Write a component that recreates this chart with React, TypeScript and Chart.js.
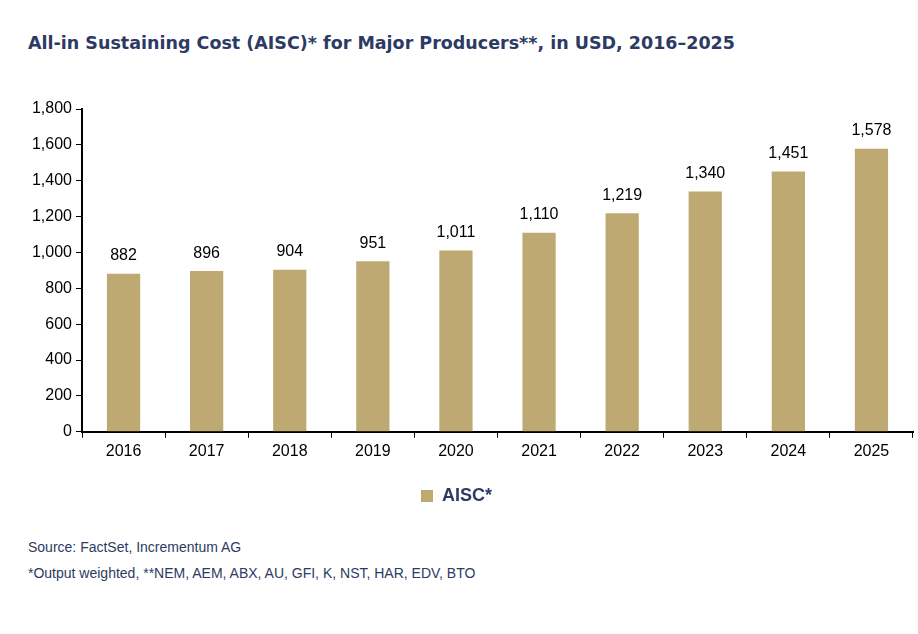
import React, { useEffect, useRef } from "react";
import { Chart, registerables } from "chart.js";
Chart.register(...registerables);

const categories = ["2016","2017","2018","2019","2020","2021","2022","2023","2024","2025"];
const aisc = [882, 896, 904, 951, 1011, 1110, 1219, 1340, 1451, 1578];
const seriesLabel = "AISC*";
const navy = "#2C3A64";
const tan = "#BFA973";

const valueLabels = {
  id: "valueLabels",
  afterDatasetsDraw(chart: any) {
    const ctx = chart.ctx;
    const meta = chart.getDatasetMeta(0);
    ctx.save();
    ctx.font = "16px 'Liberation Sans', Arial, sans-serif";
    ctx.fillStyle = "#000";
    ctx.textAlign = "center";
    ctx.textBaseline = "bottom";
    meta.data.forEach((el: any, i: number) => {
      ctx.fillText(aisc[i].toLocaleString("en-US"), el.x, el.y - 10);
    });
    ctx.restore();
  },
};

export default function App() {
  const ref = useRef<HTMLCanvasElement>(null);
  useEffect(() => {
    document.body.style.margin = "0";
    const chart = new Chart(ref.current!, {
      type: "bar",
      data: {
        labels: categories,
        datasets: [{ label: seriesLabel, data: aisc, backgroundColor: tan, categoryPercentage: 1, barPercentage: 0.4 }],
      },
      options: {
        animation: false,
        responsive: false,
        layout: { padding: { top: 19, right: 5, left: 0, bottom: 0 } },
        plugins: {
          tooltip: { enabled: false },
          legend: {
            position: "bottom",
            labels: { boxWidth: 12, boxHeight: 12, padding: 22, color: navy, font: { family: "'Liberation Sans', Arial", size: 18, weight: "bold" } },
          },
        },
        scales: {
          x: {
            offset: true,
            grid: { offset: true, drawOnChartArea: false, color: "#000", tickLength: 6 },
            border: { color: "#000", width: 2 },
            ticks: { color: "#000", font: { family: "'Liberation Sans', Arial", size: 16 }, padding: 4 },
          },
          y: {
            min: 0, max: 1800,
            afterFit: (s: any) => { s.width = 82; },
            grid: { drawOnChartArea: false, color: "#000", tickLength: 6 },
            border: { color: "#000", width: 2 },
            ticks: { stepSize: 200, color: "#000", font: { family: "'Liberation Sans', Arial", size: 16 }, padding: 4,
              callback: (v: any) => Number(v).toLocaleString("en-US") },
          },
        },
      },
      plugins: [valueLabels],
    });
    return () => chart.destroy();
  }, []);
  return (
    <div style={{ position: "relative", width: 918, height: 634, background: "#fff", fontFamily: "'Liberation Sans', Arial, sans-serif" }}>
      <div style={{ position: "absolute", left: 28, top: 33, fontFamily: "'DejaVu Sans', sans-serif", fontWeight: 900, fontSize: 17.5, color: navy, letterSpacing: 0 }}>
        All-in Sustaining Cost (AISC)* for Major Producers**, in USD, 2016–2025
      </div>
      <canvas ref={ref} width={918} height={425} style={{ position: "absolute", left: 0, top: 90 }} />
      <div style={{ position: "absolute", left: 28, top: 539, fontSize: 14, color: navy }}>Source: FactSet, Incrementum AG</div>
      <div style={{ position: "absolute", left: 28, top: 565, fontSize: 14, color: navy }}>*Output weighted, **NEM, AEM, ABX, AU, GFI, K, NST, HAR, EDV, BTO</div>
    </div>
  );
}
